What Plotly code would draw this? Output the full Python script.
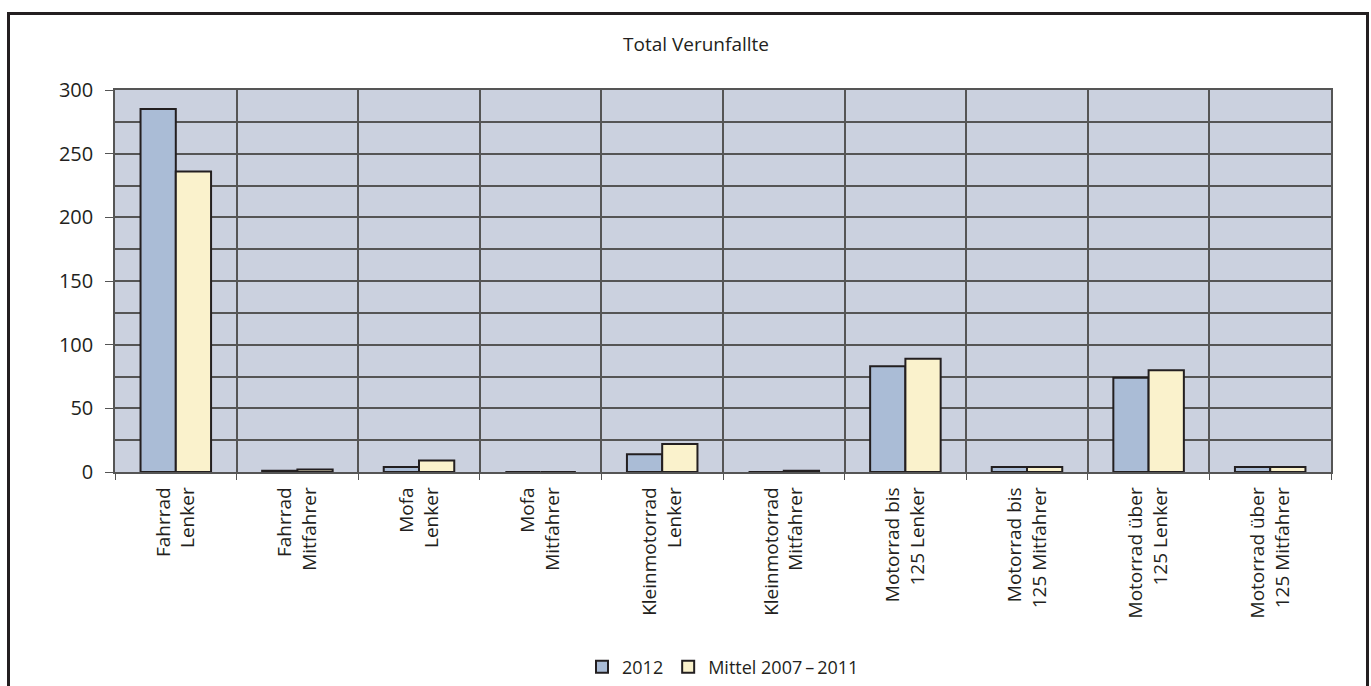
import plotly.graph_objects as go

categories = [
    "Fahrrad<br>Lenker", "Fahrrad<br>Mitfahrer", "Mofa<br>Lenker", "Mofa<br>Mitfahrer",
    "Kleinmotorrad<br>Lenker", "Kleinmotorrad<br>Mitfahrer", "Motorrad bis<br>125 Lenker",
    "Motorrad bis<br>125 Mitfahrer", "Motorrad über<br>125 Lenker", "Motorrad über<br>125 Mitfahrer",
]
values_2012 = [285, 1, 4, 0, 14, 0, 83, 4, 74, 4]
values_mittel = [236, 2, 9, 0, 22, 1, 89, 4, 80, 4]
series_names = ["2012", "Mittel 2007\u2009\u2013\u20092011"]
y_ticks = [0, 50, 100, 150, 200, 250, 300]

FONT = "Open Sans, sans-serif"
W, H = 1371, 686
PL, PR, PT, PB = 115, 1331, 90, 472
L = PL
R = W - PR
T = PT
B = H - PB

fig = go.Figure()
fig.add_trace(go.Bar(x=categories, y=values_2012, name=series_names[0],
                     marker=dict(color="#aabcd6", line=dict(color="#231f20", width=2))))
fig.add_trace(go.Bar(x=categories, y=values_mittel, name=series_names[1],
                     marker=dict(color="#faf2cc", line=dict(color="#231f20", width=2))))

pw = PR - PL
ph = PB - PT
def px_to_paper_x(px):
    return (px - PL) / pw
def px_to_paper_y(py):
    return (PB - py) / ph

fig.add_shape(type="rect", xref="paper", yref="paper",
              x0=px_to_paper_x(8.5), x1=px_to_paper_x(1367.5),
              y0=px_to_paper_y(720), y1=px_to_paper_y(13.5),
              line=dict(color="#231f20", width=3), fillcolor="rgba(0,0,0,0)", layer="below")

fig.update_layout(
    width=W, height=H,
    margin=dict(l=L, r=R, t=T, b=B),
    paper_bgcolor="white",
    plot_bgcolor="#cbd1df",
    barmode="group",
    bargap=0.42,
    bargroupgap=0,
    font=dict(family=FONT, size=19, color="#231f20"),
    title=dict(text="Total Verunfallte", x=px_to_paper_x(696), xref="paper", xanchor="center",
               y=1 - 44 / H, yref="container", yanchor="middle",
               font=dict(family=FONT, size=19, color="#231f20")),
    legend=dict(orientation="h", x=0.5, xref="paper", xanchor="center",
                y=1 - 667 / H, yref="container", yanchor="middle",
                font=dict(family=FONT, size=18, color="#231f20"),
                itemwidth=30, traceorder="normal"),
    xaxis=dict(
        tickson="boundaries", showgrid=True, gridcolor="#555555", gridwidth=1.5,
        tickangle=-90, ticks="outside", ticklen=6, tickcolor="#555555",
        showline=True, linecolor="#555555", linewidth=1.5, mirror=True,
        ticklabelstandoff=6,
        tickfont=dict(family=FONT, size=19, color="#231f20"),
    ),
    yaxis=dict(
        range=[0, 300], tickvals=y_ticks, showgrid=True, gridcolor="#555555", gridwidth=1.5,
        minor=dict(dtick=25, showgrid=True, gridcolor="#555555", gridwidth=1.5),
        ticks="outside", ticklen=8, tickcolor="#555555",
        showline=True, linecolor="#555555", linewidth=1.5, mirror=True,
        zeroline=False, ticklabelstandoff=8,
        tickfont=dict(family=FONT, size=20, color="#231f20"),
    ),
)

fig.write_html("out.html", config={"displayModeBar": False},
               post_script="document.body.style.margin='0';document.body.style.overflow='hidden';")
